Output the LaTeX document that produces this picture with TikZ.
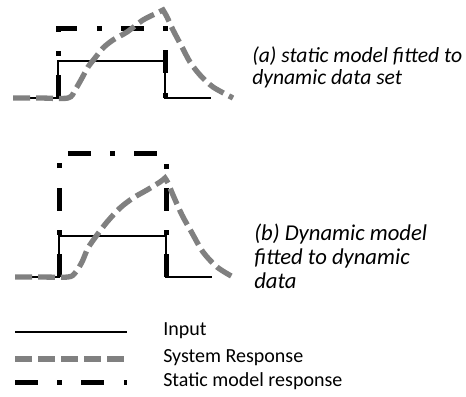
\documentclass[tikz,border=0pt]{standalone}
\usepackage{fontspec}
\setmainfont{Carlito}
\usetikzlibrary{positioning}
\tikzstyle{inputline} = [black, line width=1pt]
\tikzstyle{respline} = [gray, line width=4pt, dash pattern=on 12.75pt off 4.5pt]
\tikzstyle{staticline} = [black, line width=3.75pt, dash pattern=on 17.25pt off 14.6pt on 3.75pt off 14.25pt]
\tikzstyle{caption} = [anchor=west, align=left, inner sep=0pt, font=\fontsize{16.2}{16.5}\selectfont\itshape]
\tikzstyle{legend} = [anchor=west, inner sep=0pt, font=\fontsize{15}{15}\selectfont]

\begin{document}
\begin{tikzpicture}[x=0.75pt, y=-0.75pt]
    \useasboundingbox (0,0) rectangle (466,396);
    % (a) static model
    \draw[inputline] (13,98) -- (58,98) -- (58,61) -- (165,61) -- (165,98) -- (211,98);
    \draw[staticline] (58,98) -- (58,28) -- (165,28) -- (165,98);
    \draw[respline] plot[smooth, tension=0.5] coordinates {(13,98) (40,98) (68,98) (75,90)
        (82,78) (88,67) (95,58) (103,48) (113,40) (127,32) (143,20) (157,13) (163,10)}
        -- plot[smooth, tension=0.5] coordinates {(163,10) (167,17) (173,30) (182,47)
        (190,62) (200,75) (213,87) (233,98)};
    \node[caption] (capa) at (252,67) {(a) static model fitted to\\ dynamic data set};
    % (b) dynamic model
    \draw[inputline] (15,277) -- (59,277) -- (59,236) -- (166,236) -- (166,277) -- (212,277);
    \draw[staticline] (59,277) -- (59,153) -- (166,153) -- (166,277);
    \draw[respline] plot[smooth, tension=0.5] coordinates {(15,277) (40,277) (68,277) (75,273)
        (82,262) (88,248) (97,235) (107,222) (120,208) (133,198) (147,190) (160,182) (165,178)}
        -- plot[smooth, tension=0.5] coordinates {(165,178) (168,183) (173,195) (182,215)
        (192,233) (203,252) (217,267) (233,277)};
    \node[caption, font=\fontsize{17}{18}\selectfont\itshape] (capb) at (254,256)
        {(b) Dynamic model\\ fitted to dynamic\\ data};
    % legend
    \coordinate (inA) at (15,332);
    \coordinate (inB) at (127,332);
    \coordinate (resA) at (15,359);
    \coordinate (resB) at (127,359);
    \coordinate (stA) at (15,382);
    \coordinate (stB) at (127,382);
    \draw[inputline] (inA) -- (inB);
    \draw[respline] (resA) -- (resB);
    \draw[staticline] (stA) -- (stB);
    \node[legend] (lgin) at (163,331) {Input};
    \node[legend] (lgres) at (163,358) {System Response};
    \node[legend] (lgst) at (163,381) {Static model response};
\end{tikzpicture}
\end{document}
